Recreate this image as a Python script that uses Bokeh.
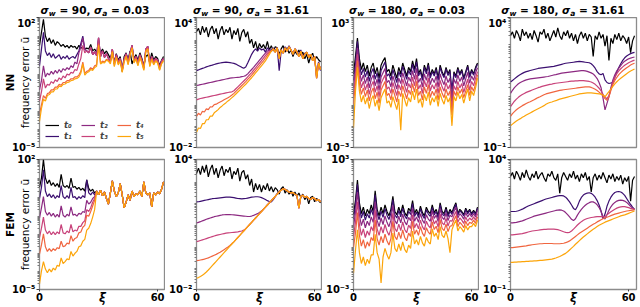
import numpy as np
from bokeh.plotting import figure
from bokeh.layouts import gridplot, row, column
from bokeh.models import Range1d, FixedTicker, Legend, LegendItem, LinearAxis, Div
from bokeh.embed import file_html
from bokeh.resources import INLINE

# ---------------- data (values stored as log10 of the frequency error) ----------------
xi = list(range(64))
xi_ticks = [0, 60]
series_labels = ["t₀", "t₁", "t₂", "t₃", "t₄", "t₅"]
row_labels = ["NN", "FEM"]
sigma_w = ["90", "90", "180", "180"]
sigma_a = ["0.03", "31.61", "0.03", "31.61"]
y_decades = [(-5, 2), (-2, 4), (-3, 3), (-1, 4)]

# ---- NN, sigma_w=90, sigma_a=0.03
nn1_t0 = [0.5, 1.2, 1.9, 1.0, 0.7, 0.9, 0.6, 0.8, 0.5, 0.7, 0.6, 0.45, 0.55, 0.4, 0.5, 0.35, 0.5, 0.4, 0.45, 0.3,
          0.5, 0.35, 0.4, 0.3, 0.35, 0.3, 0.55, 0.2, 0.3, 0.15, 0.25, 0.1, 0.3, 0.05, 0.2, 0.0, -0.2, 0.1, -0.4, 0.05,
          -0.3, -0.1, -0.9, -0.1, 0.1, -0.3, 0.2, -0.5, -0.2, 0.0, -0.3, 0.1, -0.2, -0.6, -0.1, 0.0, -0.4, 0.1, -0.3, -0.1,
          -0.2, -0.6, -0.3, -0.1]
nn1_tail = [0.2, 0.1, 0.4, 0.0, 0.15, -0.05, 0.9, -0.1, 0.2, -0.15, 0.05, -0.2, -0.35, 0.3, -0.5, 0.0, -0.4, -0.2, -0.8, -0.25,
            0.05, -0.4, 0.1, 0.5, -0.3, -0.1, -0.45, 0.0, -0.3, -0.7, 0.3, 0.45, -0.5, -0.1, -0.4, -0.2, -0.3, -0.7, -0.35, -0.2]
nn1_t1 = [-0.6, 0.3, 1.2, 0.2, -0.05, 0.1, -0.15, 0.05, -0.2, -0.1, 0.0, -0.25, -0.1, -0.2, -0.05, -0.25, -0.15, -0.1, -0.2, 0.0,
          0.2, 0.6, 1.0, 0.3] + nn1_tail
nn1_t2 = [-1.9, -1.4, -0.6, -1.2, -1.0, -1.1, -0.9, -1.05, -0.85, -1.0, -0.8, -0.95, -0.75, -0.85, -0.7, -0.8, -0.6, -0.7, -0.4, -0.5,
          0.1, 0.4, 0.9, 0.3] + nn1_tail
nn1_t3 = [-2.5, -2.0, -1.3, -1.8, -1.6, -1.65, -1.45, -1.55, -1.35, -1.45, -1.25, -1.35, -1.15, -1.25, -1.05, -1.1, -0.95, -1.0, -0.8, -0.85,
          -0.5, -0.2, 0.5, 0.1] + nn1_tail
nn1_t4 = [-3.2, -2.7, -2.2, -2.35, -2.1, -2.05, -1.9, -1.9, -1.75, -1.75, -1.6, -1.65, -1.5, -1.5, -1.4, -1.4, -1.3, -1.3, -1.2, -1.2,
          -1.1, -0.9, -0.4, -1.0, -0.9, -0.85, -0.7, -0.8, -0.6, -0.55, 0.6, -0.45, -0.35, -0.4, -0.25,
          -0.3, -0.45, 0.2, -0.6, -0.1, -0.5, -0.3, -0.9, -0.35, -0.05, -0.5, 0.0, 0.4, -0.4, -0.2, -0.55, -0.1, -0.4, -0.8, 0.2,
          0.35, -0.6, -0.2, -0.5, -0.3, -0.4, -0.8, -0.45, -0.3]
nn1_t5 = [-3.6, -2.9, -2.4, -2.5, -2.2, -2.15, -2.0, -2.0, -1.85, -1.85, -1.7, -1.72, -1.6, -1.58, -1.5, -1.48, -1.4, -1.38, -1.3, -1.28,
          -1.2, -1.0, -0.5, -1.1, -0.98, -0.92, -0.8, -0.85, -0.7, -0.62, 0.5, -0.5, -0.42, -0.45, -0.3,
          -0.35, -0.5, 0.15, -0.65, -0.15, -0.55, -0.35, -0.95, -0.4, -0.1, -0.55, -0.05, 0.35, -0.45, -0.25, -0.6, -0.15, -0.45, -0.85, 0.15,
          0.3, -0.65, -0.25, -0.55, -0.35, -0.45, -0.85, -0.5, -0.35]

# ---- NN, sigma_w=90, sigma_a=31.61
nn2_t0 = [3.35, 3.5, 3.2, 3.6, 3.3, 3.55, 3.1, 3.45, 3.6, 3.25, 3.5, 3.0, 3.4, 3.6, 3.2, 3.45, 3.3, 3.55, 3.0, 3.4,
          3.2, 3.5, 2.9, 3.3, 3.45, 3.1, 3.35, 2.8, 3.0, 2.6, 2.9, 2.5, 2.8, 2.6, 2.75, 2.55, 2.9, 2.5, 2.7, 2.45,
          2.65, 2.6, 2.3, 2.55, 2.7, 2.4, 2.6, 2.35, 2.5, 2.2, 2.45, 2.3, 2.5, 2.25, 2.4, 2.1, 2.3, 1.9, 2.2, 2.35,
          2.0, 2.2, 2.05, 1.95]
nn2_tail = [2.45, 2.55, 2.4, 2.6, 2.1, 2.5, 2.35, 2.6, 2.45, 2.65, 2.5, 2.3, 2.55, 2.4, 2.2, 2.45, 2.1, 2.3, 2.4, 2.15,
            2.3, 2.0, 2.2, 1.2, 1.9, 1.6]
nn2_t1 = [1.55, 1.58, 1.62, 1.65, 1.68, 1.72, 1.75, 1.78, 1.8, 1.83, 1.86, 1.88, 1.9, 1.92, 1.93, 1.94, 1.93, 1.92, 1.9, 1.88,
          1.85, 1.8, 1.75, 1.7, 1.66, 1.72, 1.9, 2.1, 2.3, 2.45, 2.55, 2.45, 2.6, 2.5, 2.55, 2.4, 2.6, 2.5,
          2.5, 2.6, 2.45, 2.6, 1.55, 2.45, 2.4, 2.65, 2.5, 2.7, 2.5, 2.35, 2.55, 2.45, 2.25, 2.5, 2.1, 2.35, 2.4, 2.2,
          2.3, 2.05, 2.2, 1.3, 1.95, 1.55]
nn2_t2 = [0.87, 0.88, 0.9, 0.92, 0.94, 0.96, 0.98, 1.0, 1.02, 1.04, 1.06, 1.08, 1.1, 1.12, 1.14, 1.16, 1.18, 1.2, 1.21, 1.22,
          1.23, 1.24, 1.25, 1.27, 1.29, 1.32, 1.4, 1.5, 1.6, 1.7, 1.81, 1.92, 2.03, 2.14, 2.25, 2.36, 2.45, 2.5] + nn2_tail
nn2_t3 = [0.2, 0.23, 0.26, 0.28, 0.3, 0.32, 0.34, 0.36, 0.38, 0.4, 0.42, 0.44, 0.46, 0.48, 0.5, 0.52, 0.54, 0.56, 0.57, 0.62,
          0.71, 0.8, 0.89, 0.98, 1.07, 1.16, 1.26, 1.36, 1.46, 1.57, 1.68, 1.79, 1.9, 2.01, 2.12, 2.24, 2.35, 2.45] + nn2_tail
nn2_t4 = [-0.56, -0.42, -0.5, -0.33, -0.36, -0.22, -0.25, -0.12, -0.13, -0.02, 0.0, 0.05, 0.1, 0.15, 0.2, 0.25, 0.3, 0.35, 0.42, 0.5,
          0.59, 0.68, 0.77, 0.86, 0.95, 1.04, 1.14, 1.24, 1.34, 1.45, 1.56, 1.67, 1.78, 1.89, 2.0, 2.12, 2.25, 2.38] + nn2_tail
nn2_t5 = [-1.3, -1.1, -1.12, -0.9, -0.9, -0.72, -0.72, -0.55, -0.55, -0.4, -0.33, -0.25, -0.15, -0.08, 0.0, 0.07, 0.15, 0.22, 0.3, 0.38,
          0.47, 0.56, 0.65, 0.74, 0.83, 0.92, 1.02, 1.12, 1.22, 1.33, 1.44, 1.55, 1.66, 1.77, 1.88, 2.0, 2.15, 2.3] + nn2_tail

# ---- NN, sigma_w=180, sigma_a=0.03
nn3_t0 = [0.4, 1.2, 2.05, 1.1, 0.6, 0.9, 0.5, 0.8, 0.3, 0.7, 0.9, 0.4, 0.7, 0.2, 0.8, 1.0, 1.15, 0.5, 0.6, 0.3,
          0.8, 0.5, 0.2, 0.7, 0.4, 0.9, 0.6, 0.3, 0.7, 0.5, 1.0, 0.6, 1.1, 0.4, 0.6, 0.2, 0.8, 0.5, 0.9, 0.3,
          0.6, 0.4, 0.7, 0.2, 0.8, 0.5, 0.3, 0.7, 0.4, 0.6, -1.2, 0.5, 0.3, 0.7, 0.4, 0.6, 0.2, 0.5, 0.8, 0.3,
          0.6, 0.4, 0.7, 0.9]
nn3_t1 = [0.1, 0.9, 1.9, 0.85, 0.35, 0.65, 0.25, 0.55, 0.05, 0.45, 0.65, 0.15, 0.45, -0.05, 0.55, 0.75, 0.95, 0.3, 0.4, 0.1,
          0.6, 0.3, 0.0, 0.5, 0.25, 0.75, 0.45, 0.15, 0.55, 0.35, 0.85, 0.45, 0.95, 0.3, 0.5, 0.1, 0.7, 0.4, 0.8, 0.2,
          0.5, 0.3, 0.6, 0.1, 0.7, 0.4, 0.22, 0.62, 0.32, 0.52, -0.3, 0.42, 0.22, 0.62, 0.33, 0.53, 0.13, 0.43, 0.73, 0.23,
          0.53, 0.34, 0.64, 0.84]
nn3_t2 = [-0.25, 0.6, 1.6, 0.55, 0.05, 0.35, -0.05, 0.25, -0.25, 0.15, 0.35, -0.15, 0.15, -0.35, 0.25, 0.45, 0.65, 0.0, 0.1, -0.2,
          0.3, 0.0, -0.3, 0.2, -0.05, 0.45, 0.15, -0.15, 0.25, 0.05, 0.55, 0.15, 0.65, 0.0, 0.2, -0.2, 0.4, 0.1, 0.5, -0.1,
          0.2, 0.0, 0.3, -0.2, 0.4, 0.1, -0.1, 0.3, 0.0, 0.2, -0.8, 0.15, -0.05, 0.35, 0.05, 0.25, -0.15, 0.17, 0.47, -0.03,
          0.3, 0.1, 0.45, 0.68]
nn3_t3 = [-0.6, 0.3, 1.3, 0.25, -0.25, 0.05, -0.35, -0.05, -0.55, -0.15, 0.05, -0.45, -0.15, -0.65, -0.05, 0.15, 0.35, -0.3, -0.2, -0.5,
          0.0, -0.3, -0.6, -0.1, -0.35, 0.15, -0.15, -0.45, -0.05, -0.25, 0.25, -0.15, 0.35, -0.3, -0.1, -0.5, 0.1, -0.2, 0.2, -0.4,
          -0.1, -0.3, 0.0, -0.5, 0.1, -0.2, -0.4, 0.0, -0.3, -0.1, -1.2, -0.15, -0.35, 0.05, -0.25, -0.05, -0.45, -0.15, 0.15, -0.35,
          0.05, -0.15, 0.2, 0.5]
nn3_t4 = [-1.0, 0.0, 1.0, -0.05, -0.55, -0.25, -0.65, -0.35, -0.85, -0.45, -0.25, -0.75, -0.45, -0.95, -0.35, -0.15, 0.05, -0.6, -0.5, -0.8,
          -0.3, -0.6, -0.9, -0.4, -0.65, -0.15, -0.45, -0.75, -0.35, -0.55, -0.05, -0.45, 0.05, -0.6, -0.4, -0.8, -0.2, -0.5, -0.1, -0.7,
          -0.4, -0.6, -0.3, -0.8, -0.2, -0.5, -0.7, -0.3, -0.6, -0.4, -1.5, -0.4, -0.6, -0.2, -0.5, -0.3, -0.7, -0.4, -0.1, -0.6,
          -0.2, -0.4, -0.05, 0.35]
nn3_t5 = [-2.1, -0.4, 0.7, -0.4, -0.9, -0.6, -1.0, -0.7, -1.2, -0.8, -0.6, -1.1, -0.8, -1.3, -0.7, -0.5, -0.3, -0.95, -0.85, -1.15,
          -0.65, -0.95, -1.25, -0.75, -2.2, -0.5, -0.8, -1.1, -0.7, -0.9, -0.4, -0.8, -0.3, -0.95, -0.75, -1.15, -0.55, -0.85, -0.45, -1.05,
          -0.7, -0.9, -0.6, -1.1, -0.5, -0.8, -1.0, -0.6, -0.9, -0.7, -2.0, -0.65, -0.85, -0.45, -0.75, -0.55, -0.95, -0.6, -0.3, -0.85,
          -0.4, -0.6, -0.25, 0.2]

# ---- NN, sigma_w=180, sigma_a=31.61
nn4_t0 = [3.3, 3.45, 3.2, 3.5, 3.35, 3.1, 3.55, 3.3, 3.45, 3.2, 3.4, 3.15, 3.5, 3.3, 3.05, 3.45, 3.35, 3.55, 3.2, 3.4,
          3.1, 3.3, 3.5, 3.25, 3.6, 3.3, 3.15, 3.45, 3.3, 3.5, 3.2, 3.4, 3.1, 3.35, 3.0, 3.3, 3.45, 3.2, 3.4, 3.1,
          3.35, 3.25, 2.5, 3.3, 3.15, 3.45, 3.2, 3.35, 2.9, 3.3, 2.35, 3.2, 3.0, 3.35, 3.15, 3.4, 3.1, 3.3, 3.2, 3.0,
          3.25, 2.65, 3.1, 3.3]
nn4_t1 = [1.52, 1.58, 1.64, 1.7, 1.76, 1.81, 1.85, 1.89, 1.92, 1.94, 1.96, 1.98, 2.0, 2.02, 2.04, 2.05, 2.06, 2.07, 2.08, 2.09,
          2.1, 2.11, 2.12, 2.14, 2.16, 2.18, 2.2, 2.22, 2.24, 2.25, 2.26, 2.27, 2.28, 2.29, 2.3, 2.31, 2.3, 2.29, 2.28, 2.27,
          2.26, 2.22, 2.15, 2.05, 1.92, 1.83, 1.8, 1.85, 1.6, 1.5, 1.46, 1.48, 1.5, 1.7, 1.9, 2.08, 2.22, 2.35, 2.45, 2.52,
          2.57, 2.61, 2.64, 2.66]
nn4_t2 = [1.08, 1.2, 1.3, 1.38, 1.45, 1.5, 1.54, 1.57, 1.6, 1.62, 1.64, 1.65, 1.66, 1.67, 1.68, 1.69, 1.7, 1.71, 1.72, 1.73,
          1.75, 1.77, 1.79, 1.8, 1.82, 1.84, 1.86, 1.87, 1.88, 1.89, 1.9, 1.91, 1.92, 1.93, 1.94, 1.95, 1.96, 1.96, 1.95, 1.93,
          1.9, 1.87, 1.83, 1.75, 1.65, 1.5, 1.3, 0.9, 0.45, 0.7, 0.95, 1.3, 1.6, 1.8, 1.95, 2.05, 2.15, 2.25, 2.32, 2.37,
          2.41, 2.44, 2.46, 2.48]
nn4_t3 = [0.57, 0.68, 0.78, 0.86, 0.93, 0.99, 1.04, 1.08, 1.12, 1.15, 1.18, 1.21, 1.24, 1.27, 1.3, 1.32, 1.35, 1.37, 1.39, 1.41,
          1.43, 1.44, 1.46, 1.47, 1.48, 1.49, 1.5, 1.51, 1.52, 1.53, 1.54, 1.55, 1.55, 1.56, 1.56, 1.57, 1.57, 1.57, 1.56, 1.55,
          1.54, 1.52, 1.48, 1.43, 1.36, 1.28, 1.18, 1.05, 0.92, 0.88, 1.0, 1.25, 1.5, 1.7, 1.84, 1.95, 2.03, 2.1, 2.16, 2.21,
          2.26, 2.3, 2.33, 2.36]
nn4_t4 = [0.2, 0.3, 0.38, 0.45, 0.51, 0.56, 0.61, 0.65, 0.69, 0.73, 0.76, 0.8, 0.84, 0.88, 0.92, 0.95, 0.99, 1.03, 1.06, 1.08,
          1.1, 1.12, 1.14, 1.16, 1.18, 1.2, 1.21, 1.22, 1.23, 1.24, 1.25, 1.26, 1.27, 1.28, 1.29, 1.3, 1.31, 1.32, 1.33, 1.33,
          1.33, 1.31, 1.28, 1.24, 1.19, 1.13, 1.06, 0.98, 0.88, 0.82, 0.95, 1.2, 1.42, 1.58, 1.7, 1.8, 1.88, 1.95, 2.01, 2.07,
          2.12, 2.17, 2.21, 2.24]
nn4_t5 = [-0.16, -0.1, -0.04, 0.02, 0.07, 0.11, 0.16, 0.2, 0.25, 0.29, 0.33, 0.37, 0.41, 0.45, 0.49, 0.53, 0.57, 0.61, 0.66, 0.7,
          0.73, 0.75, 0.78, 0.8, 0.83, 0.86, 0.88, 0.9, 0.92, 0.94, 0.96, 0.98, 1.0, 1.02, 1.04, 1.06, 1.07, 1.08, 1.09, 1.1,
          1.1, 1.1, 1.09, 1.08, 1.07, 1.06, 1.05, 1.02, 0.95, 1.05, 1.15, 1.25, 1.35, 1.45, 1.53, 1.6, 1.66, 1.72, 1.78, 1.84,
          1.89, 1.94, 1.98, 2.02]

# ---- FEM, sigma_w=90, sigma_a=0.03
fem1_tail = [0.3, 0.1, 0.35, 0.05, 0.25, -0.1, -0.4, 0.2, 0.85, 0.3, 0.0, 0.2, 0.7, 0.1, -0.6, -0.3, 0.1, -0.2, 0.3, 0.0,
             0.15, 0.1, 0.3, 0.0, 0.8, 0.2, 0.1, 0.2, -0.55, 0.2, 0.1, 0.25, 0.15, 0.4, 0.8]
fem1_t0 = [0.5, 1.0, 2.0, 1.0, 0.7, 0.9, 0.6, 0.75, 0.55, 0.7, 0.5, 1.2, 0.6, 0.5, 0.6, 0.45, 1.0, 0.5, 0.55, 0.4,
           0.5, 0.35, 0.45, 0.3, 0.9, 0.45, 0.3, 0.4, 0.2] + fem1_tail
fem1_t1 = [-0.1, 0.5, 1.45, 0.3, 0.0, 0.15, -0.05, 0.1, -0.1, 0.05, -0.05, 0.6, 0.0, -0.1, 0.05, -0.1, 0.5, -0.05, 0.0, -0.15,
           0.0, -0.1, 0.05, -0.05, 0.9, 0.2, 0.1, 0.25, 0.1] + fem1_tail
fem1_t2 = [-1.15, -0.6, 0.0, -0.8, -1.0, -0.85, -1.05, -0.9, -1.1, -0.95, -1.1, -0.5, -1.0, -1.1, -0.95, -1.05, -0.55, -1.0, -0.95, -1.05,
           -0.9, -0.95, -0.8, -0.85, -0.2, -0.4, -0.3, -0.1, 0.0] + fem1_tail
fem1_t3 = [-2.2, -1.7, -1.1, -1.8, -2.0, -1.85, -2.05, -1.9, -2.05, -1.9, -2.0, -1.5, -1.95, -2.0, -1.85, -1.95, -1.5, -1.9, -1.8, -1.85,
           -1.6, -1.6, -1.4, -1.3, -0.7, -0.8, -0.6, -0.3, -0.1] + fem1_tail
fem1_t4 = [-3.1, -2.6, -2.0, -2.7, -2.95, -2.8, -2.95, -2.8, -2.9, -2.75, -2.8, -2.4, -2.7, -2.65, -2.5, -2.55, -2.1, -2.4, -2.25, -2.2,
           -1.95, -1.9, -1.65, -1.55, -1.0, -1.05, -0.8, -0.5, -0.2] + fem1_tail
fem1_t5 = [-4.7, -4.0, -3.5, -3.9, -4.1, -3.9, -4.05, -3.85, -3.95, -3.7, -3.75, -3.3, -3.6, -3.5, -3.35, -3.4, -2.95, -3.2, -3.05, -2.95,
           -2.7, -2.65, -2.4, -2.3, -1.8, -1.7, -1.45, -1.1, -0.7] + fem1_tail

# ---- FEM, sigma_w=90, sigma_a=31.61
fem2_t0 = [3.35, 3.6, 3.3, 3.7, 3.4, 3.75, 3.2, 3.55, 3.75, 3.3, 3.6, 3.15, 3.5, 3.7, 3.25, 3.55, 3.4, 3.65, 3.1, 3.45,
           3.3, 3.6, 3.0, 3.4, 3.5, 3.1, 3.3, 2.8, 3.1, 2.5, 2.9, 2.6, 2.85, 2.5, 2.8, 2.6, 2.9, 2.55, 2.75, 2.5,
           2.7, 2.6, 2.4, 2.65, 2.75, 2.45, 2.6, 2.4, 2.55, 2.3, 2.5, 2.3, 2.45, 2.25, 2.4, 2.15, 2.3, 1.95, 2.25, 2.3,
           2.05, 2.2, 2.1, 2.0]
fem2_tail = [2.65, 2.62, 2.56, 2.5, 2.45, 2.48, 2.4, 2.35, 1.75, 2.3, 2.35, 2.25, 2.3, 2.2, 2.15, 2.25, 2.2, 2.1, 2.15, 2.05]
fem2_t1 = [2.04, 2.05, 2.07, 2.09, 2.11, 2.13, 2.15, 2.17, 2.19, 2.2, 2.21, 2.22, 2.23, 2.24, 2.25, 2.26, 2.26, 2.26, 2.25, 2.24,
           2.22, 2.2, 2.19, 2.18, 2.19, 2.2, 2.22, 2.24, 2.26, 2.27, 2.28, 2.28, 2.27, 2.24, 2.2, 2.15, 2.1, 2.06, 2.04, 2.15,
           2.3, 2.42, 2.52, 2.6] + fem2_tail
fem2_t2 = [1.07, 1.1, 1.13, 1.17, 1.2, 1.24, 1.27, 1.3, 1.33, 1.36, 1.38, 1.4, 1.42, 1.44, 1.45, 1.46, 1.46, 1.46, 1.45, 1.44,
           1.43, 1.42, 1.41, 1.4, 1.39, 1.38, 1.37, 1.37, 1.39, 1.42, 1.46, 1.5, 1.55, 1.62, 1.71, 1.8, 1.9, 2.0, 2.1, 2.2,
           2.3, 2.4, 2.5, 2.58] + fem2_tail
fem2_t3 = [0.21, 0.23, 0.26, 0.29, 0.32, 0.35, 0.38, 0.41, 0.44, 0.47, 0.5, 0.52, 0.54, 0.56, 0.58, 0.6, 0.61, 0.62, 0.63, 0.64,
           0.65, 0.66, 0.68, 0.7, 0.74, 0.81, 0.9, 1.0, 1.1, 1.2, 1.3, 1.4, 1.5, 1.6, 1.7, 1.8, 1.9, 2.0, 2.1, 2.2,
           2.3, 2.4, 2.5, 2.58] + fem2_tail
fem2_t4 = [-0.67, -0.66, -0.64, -0.62, -0.6, -0.57, -0.54, -0.5, -0.46, -0.42, -0.38, -0.33, -0.28, -0.22, -0.16, -0.1, -0.04, 0.03, 0.12, 0.2,
           0.3, 0.4, 0.5, 0.6, 0.7, 0.8, 0.9, 1.0, 1.1, 1.2, 1.3, 1.4, 1.5, 1.6, 1.7, 1.8, 1.9, 2.0, 2.1, 2.2,
           2.3, 2.4, 2.5, 2.58] + fem2_tail
fem2_t5 = [-1.48, -1.45, -1.4, -1.34, -1.27, -1.19, -1.1, -1.0, -0.9, -0.8, -0.7, -0.6, -0.5, -0.4, -0.3, -0.2, -0.1, 0.0, 0.1, 0.2,
           0.3, 0.4, 0.5, 0.6, 0.7, 0.8, 0.9, 1.0, 1.1, 1.2, 1.3, 1.4, 1.5, 1.6, 1.7, 1.8, 1.9, 2.0, 2.1, 2.2,
           2.3, 2.4, 2.5, 2.58] + fem2_tail

# ---- FEM, sigma_w=180, sigma_a=0.03
fem3_t0 = [0.45, 1.1, 2.05, 1.0, 0.5, 0.8, 0.4, 0.7, 0.5, 0.9, 0.6, 1.55, 0.7, 0.4, 0.8, 0.5, 0.9, 0.6, 0.4, 0.7,
           1.3, 0.6, 0.45, 0.8, 0.5, 0.9, 0.55, 0.4, 0.75, 0.6, 1.1, 0.5, 0.7, 0.45, 0.85, 0.55, 0.4, 0.8, 0.6, 0.5,
           0.9, 0.55, 0.7, 0.4, 1.0, 0.6, 0.5, 0.8, 0.45, 0.7, 0.55, 0.8, 1.0, 0.5, 0.7, 0.6, 0.45, 0.75, 0.55, 0.7,
           0.5, 0.65, 0.5, 0.8]
fem3_t1 = [0.25, 0.9, 1.85, 0.8, 0.3, 0.6, 0.2, 0.5, 0.3, 0.7, 0.42, 1.37, 0.52, 0.22, 0.62, 0.33, 0.73, 0.43, 0.23, 0.53,
           1.15, 0.45, 0.3, 0.65, 0.35, 0.76, 0.41, 0.26, 0.61, 0.46, 0.97, 0.37, 0.57, 0.32, 0.73, 0.43, 0.28, 0.68, 0.48, 0.38,
           0.79, 0.44, 0.6, 0.3, 0.9, 0.5, 0.4, 0.71, 0.36, 0.61, 0.47, 0.72, 0.93, 0.43, 0.63, 0.54, 0.39, 0.69, 0.49, 0.65,
           0.45, 0.6, 0.45, 0.75]
fem3_t2 = [-0.1, 0.55, 1.5, 0.45, -0.05, 0.25, -0.15, 0.15, -0.05, 0.35, 0.1, 1.05, 0.2, -0.1, 0.3, 0.0, 0.4, 0.1, -0.1, 0.2,
           0.88, 0.18, 0.03, 0.38, 0.08, 0.48, 0.13, -0.02, 0.33, 0.18, 0.75, 0.15, 0.35, 0.1, 0.5, 0.2, 0.05, 0.45, 0.25, 0.15,
           0.63, 0.28, 0.43, 0.13, 0.73, 0.33, 0.23, 0.53, 0.18, 0.43, 0.35, 0.6, 0.8, 0.3, 0.5, 0.4, 0.25, 0.55, 0.35, 0.5,
           0.35, 0.5, 0.35, 0.65]
fem3_t3 = [-0.55, 0.1, 1.05, 0.0, -0.5, -0.2, -0.6, -0.3, -0.5, -0.1, -0.3, 0.65, -0.2, -0.5, -0.1, -0.4, 0.0, -0.3, -0.5, -0.2,
           0.52, -0.18, -0.33, 0.02, -0.28, 0.12, -0.23, -0.38, -0.03, -0.18, 0.45, -0.15, 0.05, -0.2, 0.2, -0.1, -0.25, 0.15, -0.05, -0.15,
           0.38, 0.03, 0.18, -0.12, 0.48, 0.08, -0.02, 0.28, -0.07, 0.18, 0.15, 0.4, 0.6, 0.1, 0.3, 0.2, 0.05, 0.35, 0.15, 0.3,
           0.2, 0.35, 0.2, 0.5]
fem3_t4 = [-1.05, -0.4, 0.55, -0.5, -1.0, -0.7, -1.1, -0.8, -1.0, -0.6, -0.75, 0.2, -0.65, -0.95, -0.55, -0.85, -0.45, -0.75, -0.95, -0.65,
           0.15, -0.55, -0.7, -0.35, -0.65, -0.25, -0.6, -0.75, -0.4, -0.55, 0.15, -0.45, -0.25, -0.5, -0.1, -0.4, -0.55, -0.15, -0.35, -0.45,
           0.12, -0.23, -0.08, -0.38, 0.22, -0.18, -0.28, 0.02, -0.33, -0.08, -0.05, 0.2, 0.4, -0.1, 0.1, 0.0, -0.15, 0.15, -0.05, 0.1,
           0.05, 0.2, 0.05, 0.35]
fem3_t5 = [-2.25, -1.2, -0.25, -1.3, -1.8, -1.5, -1.9, -1.6, -1.8, -1.4, -1.4, -0.45, -1.3, -1.6, -2.7, -1.5, -1.1, -1.4, -1.6, -1.3,
           -0.4, -1.1, -1.25, -0.9, -1.2, -0.8, -1.15, -1.3, -0.95, -1.1, -0.3, -0.9, -0.7, -0.95, -0.55, -0.85, -1.0, -0.6, -0.8, -0.9,
           -0.2, -0.55, -0.4, -0.7, -0.1, -0.5, -0.6, -0.3, -0.65, -1.3, -0.25, 0.0, 0.2, -0.3, -0.1, -0.2, -0.35, -0.05, -0.25, -0.1,
           -0.1, 0.05, -0.1, 0.2]

# ---- FEM, sigma_w=180, sigma_a=31.61
fem4_t0 = [3.35, 3.5, 3.25, 3.55, 3.4, 3.2, 3.5, 3.3, 3.6, 3.35, 3.2, 3.45, 3.3, 3.55, 3.25, 3.4, 3.5, 3.3, 3.15, 3.45,
           3.35, 3.55, 3.3, 3.2, 3.45, 2.7, 3.3, 3.5, 3.35, 3.2, 3.45, 3.3, 3.55, 3.25, 3.4, 3.15, 3.45, 3.3, 3.5, 3.2,
           3.35, 2.75, 3.3, 3.45, 3.2, 3.4, 3.25, 3.5, 3.3, 3.1, 3.4, 3.25, 3.45, 3.15, 3.35, 3.2, 3.4, 3.05, 3.3, 3.15,
           3.35, 2.4, 3.2, 3.35]
fem4_t1 = [2.0, 2.0, 2.0, 2.01, 2.03, 2.06, 2.09, 2.13, 2.17, 2.21, 2.24, 2.27, 2.3, 2.33, 2.36, 2.39, 2.42, 2.45, 2.48, 2.5,
           2.52, 2.54, 2.56, 2.58, 2.6, 2.61, 2.61, 2.6, 2.55, 2.47, 2.37, 2.25, 2.12, 2.07, 2.2, 2.4, 2.54, 2.63, 2.68, 2.71,
           2.72, 2.7, 2.64, 2.55, 2.42, 2.25, 2.02, 1.72, 1.9, 2.2, 2.4, 2.55, 2.66, 2.73, 2.76, 2.77, 2.75, 2.7, 2.62, 2.5,
           2.38, 2.27, 2.17, 2.08]
fem4_t2 = [1.56, 1.56, 1.57, 1.58, 1.6, 1.62, 1.64, 1.67, 1.7, 1.73, 1.76, 1.79, 1.82, 1.84, 1.86, 1.88, 1.9, 1.92, 1.94, 1.96,
           1.98, 2.0, 2.02, 2.04, 2.05, 2.06, 2.05, 2.02, 1.96, 1.88, 1.79, 1.7, 1.65, 1.72, 1.86, 1.98, 2.08, 2.17, 2.24, 2.3,
           2.34, 2.37, 2.37, 2.33, 2.26, 2.15, 2.0, 1.8, 1.71, 1.88, 2.05, 2.18, 2.28, 2.35, 2.4, 2.43, 2.44, 2.43, 2.4, 2.35,
           2.28, 2.2, 2.13, 2.08]
fem4_t3 = [1.1, 1.1, 1.11, 1.12, 1.13, 1.14, 1.15, 1.17, 1.19, 1.21, 1.23, 1.25, 1.26, 1.27, 1.28, 1.29, 1.3, 1.31, 1.31, 1.32,
           1.32, 1.32, 1.32, 1.31, 1.3, 1.28, 1.25, 1.22, 1.2, 1.19, 1.2, 1.25, 1.32, 1.4, 1.48, 1.55, 1.61, 1.66, 1.7, 1.73,
           1.75, 1.77, 1.78, 1.79, 1.8, 1.8, 1.8, 1.79, 1.81, 1.87, 1.93, 1.99, 2.04, 2.09, 2.13, 2.16, 2.18, 2.19, 2.19, 2.17,
           2.15, 2.12, 2.1, 2.08]
fem4_t4 = [0.61, 0.61, 0.62, 0.63, 0.64, 0.65, 0.66, 0.67, 0.68, 0.7, 0.71, 0.72, 0.73, 0.74, 0.75, 0.76, 0.76, 0.77, 0.77, 0.77,
           0.77, 0.77, 0.76, 0.76, 0.76, 0.76, 0.77, 0.78, 0.8, 0.83, 0.87, 0.92, 0.98, 1.04, 1.1, 1.16, 1.21, 1.26, 1.31, 1.36,
           1.41, 1.46, 1.51, 1.55, 1.6, 1.64, 1.68, 1.72, 1.75, 1.78, 1.81, 1.84, 1.87, 1.9, 1.92, 1.94, 1.96, 1.98, 2.0, 2.02,
           2.03, 2.04, 2.05, 2.06]
fem4_t5 = [0.04, 0.04, 0.05, 0.05, 0.06, 0.06, 0.07, 0.07, 0.08, 0.08, 0.09, 0.09, 0.1, 0.1, 0.11, 0.12, 0.12, 0.13, 0.14, 0.15,
           0.16, 0.17, 0.19, 0.21, 0.24, 0.27, 0.31, 0.35, 0.39, 0.45, 0.52, 0.59, 0.66, 0.74, 0.81, 0.88, 0.95, 1.02, 1.08, 1.14,
           1.2, 1.26, 1.32, 1.37, 1.42, 1.47, 1.51, 1.55, 1.59, 1.62, 1.65, 1.68, 1.71, 1.74, 1.77, 1.8, 1.83, 1.85, 1.87, 1.9,
           1.93, 1.96, 1.99, 2.02]

panels = [
    [[nn1_t0, nn1_t1, nn1_t2, nn1_t3, nn1_t4, nn1_t5],
     [nn2_t0, nn2_t1, nn2_t2, nn2_t3, nn2_t4, nn2_t5],
     [nn3_t0, nn3_t1, nn3_t2, nn3_t3, nn3_t4, nn3_t5],
     [nn4_t0, nn4_t1, nn4_t2, nn4_t3, nn4_t4, nn4_t5]],
    [[fem1_t0, fem1_t1, fem1_t2, fem1_t3, fem1_t4, fem1_t5],
     [fem2_t0, fem2_t1, fem2_t2, fem2_t3, fem2_t4, fem2_t5],
     [fem3_t0, fem3_t1, fem3_t2, fem3_t3, fem3_t4, fem3_t5],
     [fem4_t0, fem4_t1, fem4_t2, fem4_t3, fem4_t4, fem4_t5]],
]

# ---------------- style ----------------
COLORS = ["#000000", "#3b0f70", "#8c2981", "#c8427a", "#f0653f", "#fca50a"]
FONT = "DejaVu Sans"
FW, FH, TH = 126, 130, 17
LEFT0, LEFT = 32, 30
FRAME_COLOR = "#8c8c8c"
SUP = str.maketrans("-0123456789", "⁻⁰¹²³⁴⁵⁶⁷⁸⁹")

SUB = '<sub style="font-size:7.5px;vertical-align:-2px;line-height:0"><i>{}</i></sub>'
title_divs = []
for c in range(4):
    lb = LEFT0 if c == 0 else LEFT
    rb = 0 if c < 3 else 4
    html = ("<b><i>σ</i>" + SUB.format("w") + f" = {sigma_w[c]}, <i>σ</i>" + SUB.format("a")
            + f" = {sigma_a[c]}</b>")
    d = Div(text=html, width=FW, height=TH, margin=(0, rb, 0, lb),
            styles={"text-align": "center", "font-family": FONT, "font-size": "10.5px",
                    "line-height": f"{TH + 4}px", "white-space": "nowrap", "color": "black",
                    "overflow": "visible"})
    title_divs.append(d)

figs = []
for r in range(2):
    for c in range(4):
        lo, hi = y_decades[c]
        p = figure(frame_width=FW, frame_height=FH, x_range=Range1d(0, 64),
                   y_range=Range1d(10.0 ** lo, 10.0 ** hi), y_axis_type="log",
                   output_backend="svg", toolbar_location=None, min_border=0,
                   min_border_left=LEFT0 if c == 0 else LEFT, min_border_right=0 if c < 3 else 4,
                   min_border_top=0 if r == 0 else 6, min_border_bottom=6 if r == 0 else 0)
        p.grid.visible = False
        p.outline_line_color = FRAME_COLOR
        p.outline_line_width = 1.3
        p.background_fill_color = "white"
        p.border_fill_color = "white"

        yax = p.yaxis[0]
        minor = [m * 10.0 ** k for k in range(lo, hi) for m in range(2, 10)]
        yax.ticker = FixedTicker(ticks=[10.0 ** lo, 10.0 ** hi], minor_ticks=minor)
        yax.major_label_overrides = {10.0 ** lo: "10" + str(lo).translate(SUP),
                                     10.0 ** hi: "10" + str(hi).translate(SUP)}
        yax.axis_line_color = None
        yax.major_tick_out = 3
        yax.major_tick_in = 0
        yax.minor_tick_out = 2
        yax.minor_tick_in = 0
        yax.major_tick_line_color = "#444444"
        yax.minor_tick_line_color = "#777777"
        yax.major_label_standoff = 1
        yax.major_label_text_font = FONT
        yax.major_label_text_font_size = "10px"
        yax.major_label_text_font_style = "bold"
        yax.major_label_text_color = "black"

        if c == 0:
            yax.axis_label = "frequency error ū"
            yax.axis_label_text_font = FONT
            yax.axis_label_text_font_size = "10.5px"
            yax.axis_label_text_font_style = "normal"
            yax.axis_label_text_color = "black"
            yax.axis_label_standoff = -22
            nn_axis = LinearAxis(ticker=FixedTicker(ticks=[]), axis_label=row_labels[r],
                                 axis_line_color=None, major_tick_line_color=None, minor_tick_line_color=None,
                                 major_label_text_font_size="0px", axis_label_standoff=0,
                                 axis_label_text_font=FONT, axis_label_text_font_size="10.5px",
                                 axis_label_text_font_style="bold", axis_label_text_color="black")
            p.add_layout(nn_axis, "left")

        xax = p.xaxis[0]
        if r == 0:
            xax.visible = False
        else:
            xax.ticker = FixedTicker(ticks=xi_ticks, minor_ticks=[])
            xax.axis_line_color = None
            xax.major_tick_out = 2
            xax.major_tick_in = 0
            xax.major_tick_line_color = "#444444"
            xax.major_label_standoff = 1
            xax.major_label_text_font = FONT
            xax.major_label_text_font_size = "10px"
            xax.major_label_text_font_style = "bold"
            xax.major_label_text_color = "black"
            xax.axis_label = "ξ"
            xax.axis_label_text_font = FONT
            xax.axis_label_text_font_size = "11.5px"
            xax.axis_label_text_font_style = "bold italic"
            xax.axis_label_text_color = "black"
            xax.axis_label_standoff = -13

        rends = []
        for k, vals in enumerate(panels[r][c]):
            rend = p.line(xi, [10.0 ** v for v in vals], line_color=COLORS[k], line_width=1.2)
            rends.append(rend)

        if r == 0 and c == 0:
            legend = Legend(items=[LegendItem(label=series_labels[k], renderers=[rends[k]]) for k in range(6)],
                            location="bottom_left", orientation="vertical", nrows=2,
                            label_text_font=FONT, label_text_font_size="8.5px", label_text_font_style="bold italic",
                            glyph_width=14, glyph_height=8, label_height=8, label_width=16, label_standoff=5,
                            spacing=1, padding=2, margin=4,
                            background_fill_alpha=0, border_line_alpha=0)
            p.add_layout(legend)
        figs.append(p)

grid = gridplot([figs[0:4], figs[4:8]], toolbar_location=None)
page = column(row(*title_divs, spacing=0), grid, spacing=0)

open("out.html", "w").write(file_html(page, INLINE))
